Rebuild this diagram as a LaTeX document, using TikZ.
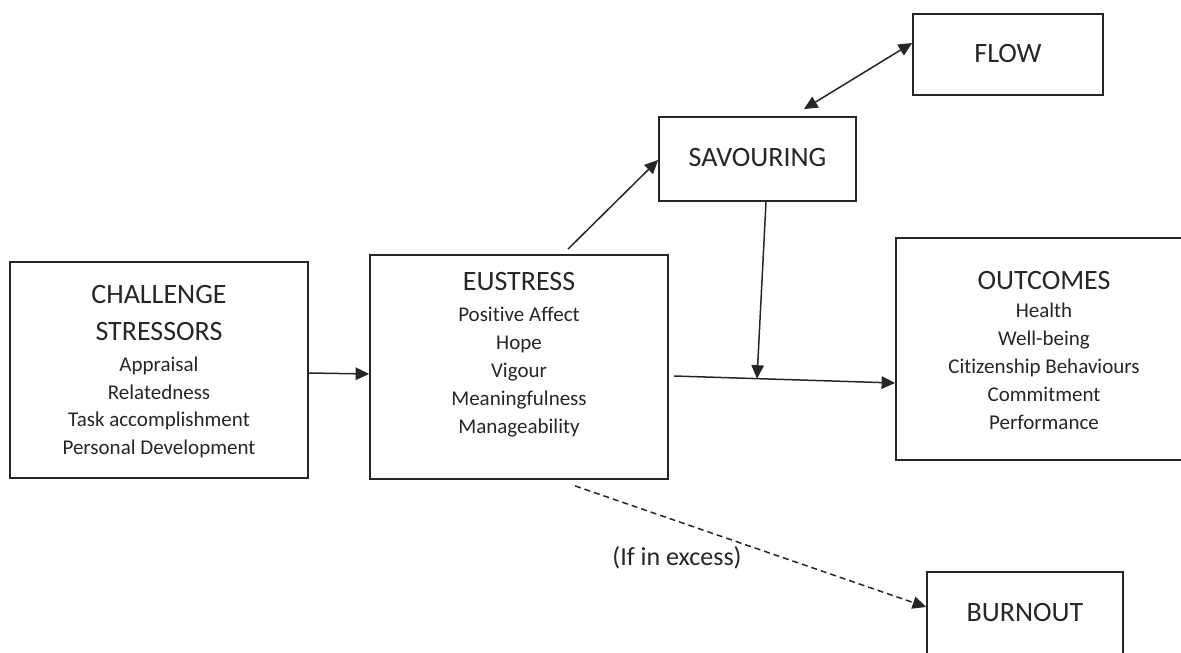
\documentclass[tikz,border=0pt]{standalone}
\usepackage{fontspec}
\setmainfont{Carlito}[Ligatures=CommonOff]
\usetikzlibrary{arrows.meta,calc}
\definecolor{ink}{HTML}{262626}
\begin{document}
\begin{tikzpicture}[x=1pt,y=-1pt,
  box/.style={draw=ink, line width=1.8pt, inner sep=0pt},
  title/.style={font=\fontsize{28}{34}\selectfont, text=ink, anchor=base, inner sep=0pt},
  item/.style={font=\fontsize{21}{25}\selectfont, text=ink, anchor=base, inner sep=0pt},
  note/.style={font=\fontsize{26}{31}\selectfont, text=ink, anchor=base, inner sep=0pt},
  tip/.tip={Triangle[length=13.5pt,width=12.5pt]},
  arr/.style={-tip, draw=ink, line width=1.5pt},
  biarr/.style={tip-tip, draw=ink, line width=1.5pt},
  dasharr/.style={-tip, draw=ink, line width=1.5pt, dash pattern=on 6pt off 4pt}]
\useasboundingbox (0,0) rectangle (1181,653);
\clip (0,0) rectangle (1181,653);

% boxes
\node[box, minimum width=298, minimum height=216] (cs)   at (159,370)    {};
\node[box, minimum width=298, minimum height=224] (eu)   at (519,367)    {};
\node[box, minimum width=197, minimum height=84]  (sav)  at (757.5,159)  {};
\node[box, minimum width=190, minimum height=81]  (flow) at (1008,54.5)  {};
\node[box, minimum width=296, minimum height=222] (out)  at (1044,349)   {};
\node[box, minimum width=196, minimum height=84]  (burn) at (1025,614)   {};

% challenge stressors
\node[title] (cs-t1) at (159,303.3) {CHALLENGE};
\node[title] (cs-t2) at (159,340.7) {STRESSORS};
\foreach \t [count=\i] in {Appraisal,Relatedness,Task accomplishment,Personal Development}
  \node[item] (cs-\i) at (159,{371.7+27.6*(\i-1)}) {\t};

% eustress
\node[title] (eu-t) at (519,290) {EUSTRESS};
\foreach \t [count=\i] in {Positive Affect,Hope,Vigour,Meaningfulness,Manageability}
  \node[item] (eu-\i) at (519,{321.7+27.9*(\i-1)}) {\t};

% outcomes
\node[title] (out-t) at (1044,289.3) {OUTCOMES};
\foreach \t [count=\i] in {Health,Well-being,Citizenship Behaviours,Commitment,Performance}
  \node[item] (out-\i) at (1044,{317.3+28*(\i-1)}) {\t};

% single-word boxes
\node[title] (sav-t)  at (757.5,166)  {SAVOURING};
\node[title] (flow-t) at (1008,62.7)  {FLOW};
\node[title] (burn-t) at (1025,621.7) {BURNOUT};

% connectors
\draw[arr] (cs.east |- 0,373) -- (eu.west |- 0,374);
\draw[arr] ([xshift=5pt]eu.east |- 0,376) -- (out.west |- 0,383);
\coordinate (join) at (757,378.7);
\draw[arr] ([xshift=8.5pt]sav.south) -- (join);
\draw[arr] ([xshift=49pt,yshift=5pt]eu.north) -- (sav.west |- 0,160);
\draw[biarr] ([xshift=46.5pt,yshift=7pt]sav.north) -- (flow.west |- 0,43);
\draw[dasharr] ([xshift=56pt,yshift=-6pt]eu.south) -- (burn.west |- 0,607);
\node[note] (excess) at (677,565) {(If in excess)};
\end{tikzpicture}
\end{document}
